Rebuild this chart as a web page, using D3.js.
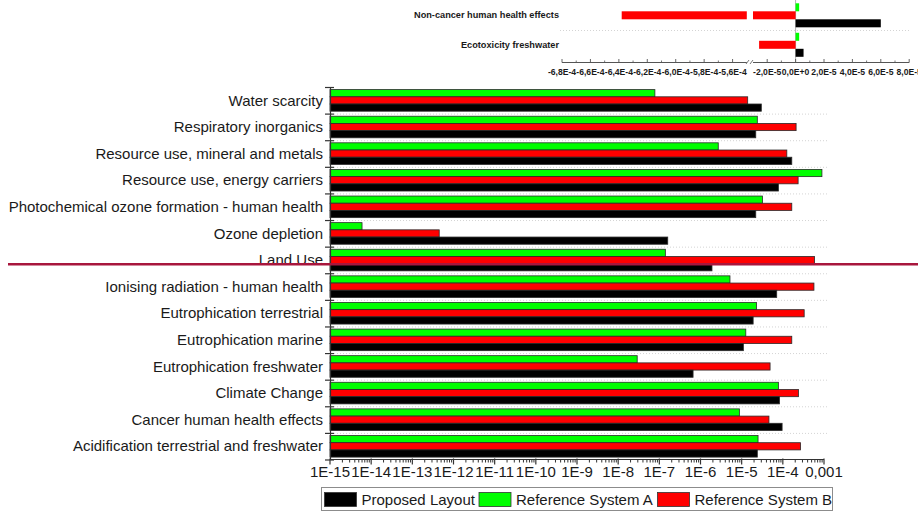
<!DOCTYPE html>
<html>
<head>
<meta charset="utf-8">
<script src="https://cdn.jsdelivr.net/npm/d3@7"></script>
<style>
  html, body { margin: 0; padding: 0; background: #fff; }
  svg { display: block; font-family: "Liberation Sans", Arial, sans-serif; }
</style>
</head>
<body>
<svg id="chart" width="918" height="513"></svg>
<script>
// Impact categories, top to bottom
const categories = [
  "Water scarcity",
  "Respiratory inorganics",
  "Resource use, mineral and metals",
  "Resource use, energy carriers",
  "Photochemical ozone formation - human health",
  "Ozone depletion",
  "Land Use",
  "Ionising radiation - human health",
  "Eutrophication terrestrial",
  "Eutrophication marine",
  "Eutrophication freshwater",
  "Climate Change",
  "Cancer human health effects",
  "Acidification terrestrial and freshwater"
];
const proposedLayout   = [3.0e-5, 2.2e-5, 1.65e-4, 7.8e-5, 2.2e-5, 1.6e-7, 1.9e-6, 7.1e-5, 1.9e-5, 1.1e-5, 6.6e-7, 8.3e-5, 9.6e-5, 2.4e-5];
const referenceSystemA = [7.8e-8, 2.4e-5, 2.7e-6, 8.9e-4, 3.2e-5, 6.0e-15, 1.4e-7, 5.2e-6, 2.3e-5, 1.26e-5, 2.9e-8, 7.8e-5, 8.8e-6, 2.5e-5];
const referenceSystemB = [1.4e-5, 2.1e-4, 1.25e-4, 2.35e-4, 1.65e-4, 4.5e-13, 5.9e-4, 5.7e-4, 3.3e-4, 1.65e-4, 4.9e-5, 2.4e-4, 4.6e-5, 2.7e-4];
const xTickLabels = ["1E-15","1E-14","1E-13","1E-12","1E-11","1E-10","1E-9","1E-8","1E-7","1E-6","1E-5","1E-4","0,001"];

// Categories with negative results (broken linear axis)
const insetCategories = ["Non-cancer human health effects", "Ecotoxicity freshwater"];
const insetProposed = [6.0e-5, 5.6e-6];
const insetRefA     = [2.5e-6, 2.5e-6];
const insetRefB     = [-6.38e-4, -2.57e-5];
const insetTicksLeft  = [-6.8e-4, -6.6e-4, -6.4e-4, -6.2e-4, -6.0e-4, -5.8e-4, -5.6e-4];
const insetTicksRight = [-2e-5, 0, 2e-5, 4e-5, 6e-5, 8e-5];

const legendLabels = ["Proposed Layout", "Reference System A", "Reference System B"];
const colors = { P: "#000000", A: "#00ff00", B: "#ff0000" };

const svg = d3.select("#chart");

// ---------- main log-scale chart ----------
const x = d3.scaleLog().domain([1e-15, 1e-3]).range([330, 824]);
const y = d3.scaleBand().domain(categories).range([87, 459.5]);
const seriesKeys = ["A", "B", "P"];
const sub = d3.scaleBand().domain(seriesKeys).range([2.6, y.bandwidth() - 2.4]);
const seriesValues = { A: referenceSystemA, B: referenceSystemB, P: proposedLayout };

const main = svg.append("g");

// dotted separators between groups
main.selectAll("line.grid")
  .data(categories.slice(1))
  .join("line")
  .attr("x1", x(1e-15) + 1).attr("x2", 827)
  .attr("y1", d => y(d) + 0.5).attr("y2", d => y(d) + 0.5)
  .attr("stroke", "#d4d4d4").attr("stroke-width", 1)
  .attr("stroke-dasharray", "1,2");

// bars
const barData = [];
categories.forEach((c, i) => {
  seriesKeys.forEach(k => barData.push({ c, k, v: seriesValues[k][i] }));
});
main.selectAll("rect.bar")
  .data(barData)
  .join("rect")
  .attr("x", x(1e-15))
  .attr("y", d => y(d.c) + sub(d.k))
  .attr("width", d => x(d.v) - x(1e-15))
  .attr("height", sub.bandwidth())
  .attr("fill", d => colors[d.k])
  .attr("stroke", "#2a2a2a")
  .attr("stroke-width", 0.8);

// category axis
const yAxisG = main.append("g");
yAxisG.append("line")
  .attr("x1", 330.5).attr("x2", 330.5)
  .attr("y1", y.range()[0]).attr("y2", y.range()[1])
  .attr("stroke", "#333").attr("stroke-width", 1.2);
const boundaries = categories.map(c => y(c)).concat([y.range()[1]]);
yAxisG.selectAll("line.tick")
  .data(boundaries)
  .join("line")
  .attr("x1", 325).attr("x2", 334)
  .attr("y1", d => d + 0.5).attr("y2", d => d + 0.5)
  .attr("stroke", "#333").attr("stroke-width", 1.2);
yAxisG.selectAll("text")
  .data(categories)
  .join("text")
  .attr("x", 323)
  .attr("y", d => y(d) + y.bandwidth() / 2)
  .attr("dy", "0.35em")
  .attr("text-anchor", "end")
  .attr("font-size", 15)
  .attr("fill", "#1a1a1a")
  .text(d => d);

// value axis (log)
const xAxisY = 459.5;
const xAxisG = main.append("g");
xAxisG.append("line")
  .attr("x1", x.range()[0]).attr("x2", x.range()[1])
  .attr("y1", xAxisY).attr("y2", xAxisY)
  .attr("stroke", "#333").attr("stroke-width", 1.2);
const majors = d3.range(-15, -2).map(e => Math.pow(10, e));
const minors = [];
d3.range(-15, -3).forEach(e => {
  for (let m = 2; m <= 9; m++) minors.push(m * Math.pow(10, e));
});
xAxisG.selectAll("line.minor")
  .data(minors)
  .join("line")
  .attr("x1", d => x(d)).attr("x2", d => x(d))
  .attr("y1", xAxisY).attr("y2", xAxisY + 3)
  .attr("stroke", "#333").attr("stroke-width", 1);
xAxisG.selectAll("line.major")
  .data(majors)
  .join("line")
  .attr("x1", d => x(d)).attr("x2", d => x(d))
  .attr("y1", xAxisY - 1).attr("y2", xAxisY + 5)
  .attr("stroke", "#333").attr("stroke-width", 1.2);
xAxisG.selectAll("text")
  .data(majors)
  .join("text")
  .attr("x", d => x(d))
  .attr("y", xAxisY + 17)
  .attr("text-anchor", "middle")
  .attr("font-size", 15)
  .attr("fill", "#1a1a1a")
  .text((d, i) => xTickLabels[i]);

// highlight line across the Land Use row
const landUseLineY = y("Land Use") + y.bandwidth() * 0.66;
svg.append("line")
  .attr("x1", 8).attr("x2", 918)
  .attr("y1", landUseLineY).attr("y2", landUseLineY)
  .attr("stroke", "#a8163d").attr("stroke-width", 2.6);

// legend
const legend = svg.append("g");
legend.append("rect")
  .attr("x", 321.5).attr("y", 487.5).attr("width", 511).attr("height", 23)
  .attr("fill", "#fff").attr("stroke", "#8c8c8c").attr("stroke-width", 1);
const legendItems = [
  { key: "P", label: legendLabels[0], x: 324.5 },
  { key: "A", label: legendLabels[1], x: 479 },
  { key: "B", label: legendLabels[2], x: 657.5 }
];
legendItems.forEach(it => {
  legend.append("rect")
    .attr("x", it.x).attr("y", 492.5).attr("width", 32).attr("height", 14)
    .attr("fill", colors[it.key]).attr("stroke", "#333").attr("stroke-width", 0.8);
  legend.append("text")
    .attr("x", it.x + 37).attr("y", 504.8)
    .attr("font-size", 15).attr("fill", "#1a1a1a")
    .text(it.label);
});

// ---------- inset: broken linear axis ----------
const inset = svg.append("g");
const xl = d3.scaleLinear().domain([-6.8e-4, -5.5e-4]).range([562, 746.8]);
const xr = d3.scaleLinear().domain([-3e-5, 8e-5]).range([753, 909.2]);
const yi = d3.scaleBand().domain(insetCategories).range([0.5, 59.5]);
const subi = d3.scaleBand().domain(seriesKeys).range([2.8, yi.bandwidth() - 2.7]);
const insetValues = { A: insetRefA, B: insetRefB, P: insetProposed };
const insetAxisY = 62.5;

// dotted separator
inset.append("line")
  .attr("x1", 560).attr("x2", 909)
  .attr("y1", yi(insetCategories[1]) + 0.5).attr("y2", yi(insetCategories[1]) + 0.5)
  .attr("stroke", "#d4d4d4").attr("stroke-dasharray", "1,2");

// zero line
inset.append("line")
  .attr("x1", xr(0)).attr("x2", xr(0))
  .attr("y1", 0).attr("y2", insetAxisY)
  .attr("stroke", "#9a9a9a").attr("stroke-width", 0.8);

// bars, split into segments on either side of the break
const insetBars = [];
insetCategories.forEach((c, i) => {
  seriesKeys.forEach(k => {
    const v = insetValues[k][i];
    if (v >= xr.domain()[0]) {
      insetBars.push({ c, k, x0: xr(Math.min(0, v)), x1: xr(Math.max(0, v)) });
    } else {
      insetBars.push({ c, k, x0: xr(xr.domain()[0]), x1: xr(0) });
      insetBars.push({ c, k, x0: xl(v), x1: xl(xl.domain()[1]) });
    }
  });
});
inset.selectAll("rect.ibar")
  .data(insetBars)
  .join("rect")
  .attr("x", d => d.x0)
  .attr("y", d => yi(d.c) + subi(d.k))
  .attr("width", d => d.x1 - d.x0)
  .attr("height", subi.bandwidth())
  .attr("fill", d => colors[d.k]);

// category labels
inset.selectAll("text.icat")
  .data(insetCategories)
  .join("text")
  .attr("x", 559)
  .attr("y", d => yi(d) + yi.bandwidth() / 2)
  .attr("dy", "0.35em")
  .attr("text-anchor", "end")
  .attr("font-size", 9.2)
  .attr("font-weight", "bold")
  .attr("fill", "#1a1a1a")
  .text(d => d);

// axis segments with break marks
const fmt = v => v.toExponential(1).replace(".", ",").replace("e", "E");
[[xl, insetTicksLeft], [xr, insetTicksRight]].forEach(([s, ticks]) => {
  inset.append("line")
    .attr("x1", s.range()[0]).attr("x2", s.range()[1])
    .attr("y1", insetAxisY).attr("y2", insetAxisY)
    .attr("stroke", "#555").attr("stroke-width", 1);
  const step = ticks[1] - ticks[0];
  const minorTicks = ticks.map(t => t + step / 2).filter(t => s(t) <= s.range()[1]);
  inset.selectAll(null).data(minorTicks).join("line")
    .attr("x1", d => s(d)).attr("x2", d => s(d))
    .attr("y1", insetAxisY - 2).attr("y2", insetAxisY)
    .attr("stroke", "#555").attr("stroke-width", 0.8);
  inset.selectAll(null).data(ticks).join("line")
    .attr("x1", d => s(d)).attr("x2", d => s(d))
    .attr("y1", insetAxisY - 3.5).attr("y2", insetAxisY)
    .attr("stroke", "#555").attr("stroke-width", 0.9);
  inset.selectAll(null).data(ticks).join("text")
    .attr("x", d => s(d))
    .attr("y", insetAxisY + 12)
    .attr("text-anchor", "middle")
    .attr("font-size", 8.6)
    .attr("font-weight", "bold")
    .attr("fill", "#1a1a1a")
    .text(d => fmt(d));
});
[747.5, 751.5].forEach(bx => {
  inset.append("line")
    .attr("x1", bx - 1.5).attr("x2", bx + 1.5)
    .attr("y1", insetAxisY + 1.5).attr("y2", insetAxisY - 2.5)
    .attr("stroke", "#555").attr("stroke-width", 0.8);
});
</script>
</body>
</html>
